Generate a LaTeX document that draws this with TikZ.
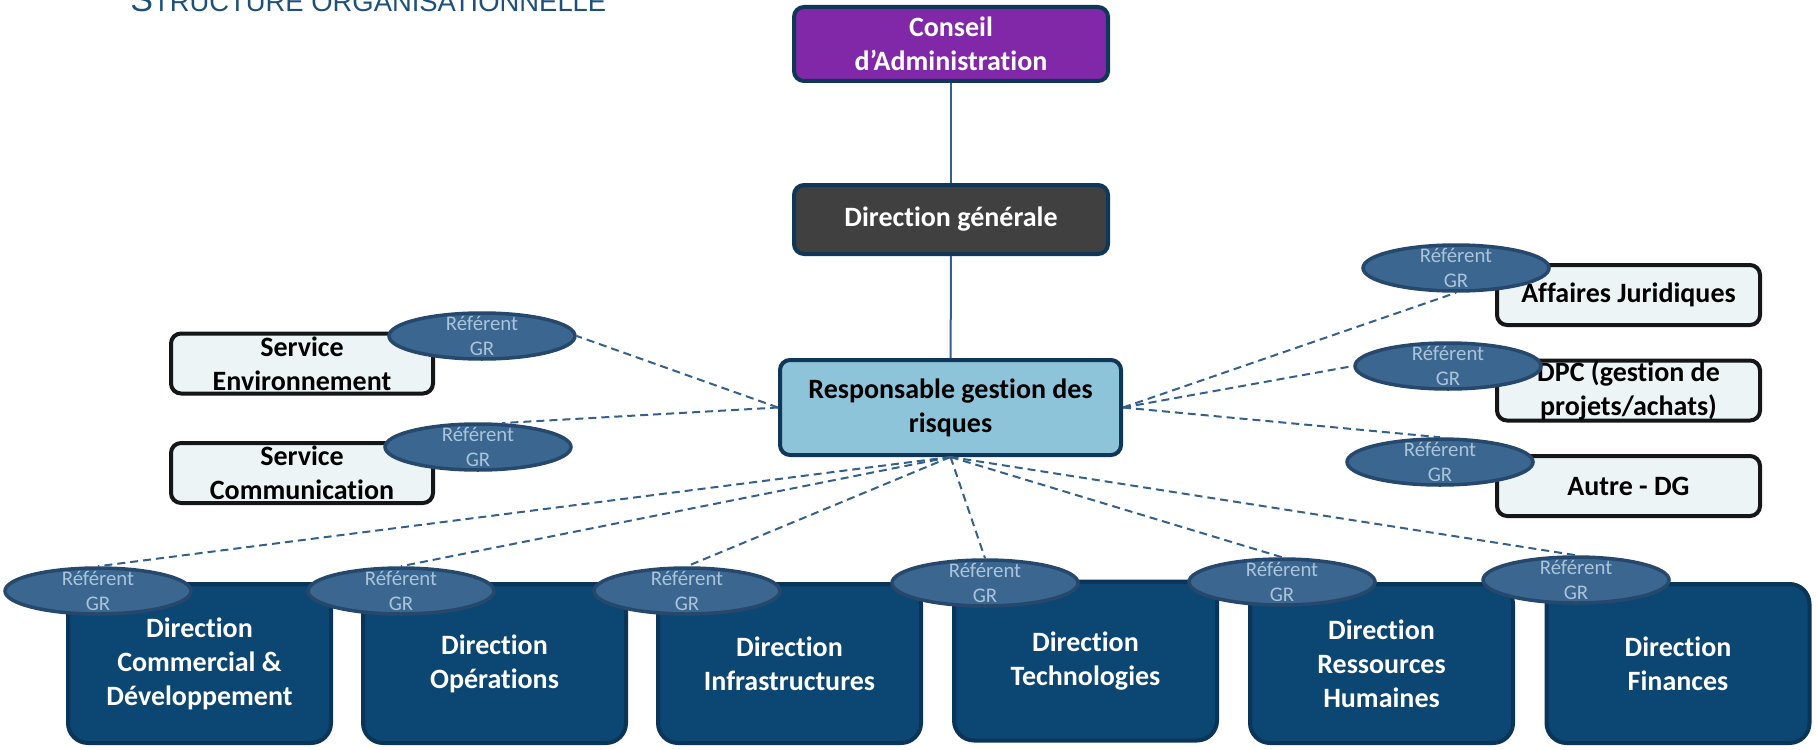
\documentclass[tikz,border=0pt]{standalone}
\usepackage{fontspec}
\setmainfont{Carlito}[Ligatures=NoCommon]
\newfontfamily\titlefont{Liberation Sans}
\usetikzlibrary{shapes.geometric}

\definecolor{titleblue}{RGB}{30,80,124}
\definecolor{cafill}{RGB}{128,40,168}
\definecolor{dgfill}{RGB}{64,64,64}
\definecolor{navyline}{RGB}{16,54,88}
\definecolor{rgrfill}{RGB}{142,196,217}
\definecolor{servfill}{RGB}{237,244,246}
\definecolor{servline}{RGB}{20,22,24}
\definecolor{dirfill}{RGB}{12,70,114}
\definecolor{dirline}{RGB}{10,52,88}
\definecolor{grfill}{RGB}{58,102,144}
\definecolor{grline}{RGB}{38,72,108}
\definecolor{grtext}{RGB}{170,196,218}
\definecolor{linkblue}{RGB}{52,96,140}

\tikzset{
  box/.style={draw=navyline, line width=2pt, rounded corners=5pt, inner sep=0pt,
    align=center, font=\bfseries\fontsize{14}{17}\selectfont},
  topbox/.style={box, minimum width=157pt, text=white},
  servbox/.style={box, draw=servline, fill=servfill, minimum width=131pt, minimum height=30pt},
  dirbox/.style={box, draw=dirline, fill=dirfill, text=white, rounded corners=10pt,
    minimum width=131.5pt, minimum height=79.5pt},
  grlabel/.style={align=center, text=grtext, inner sep=0pt, font=\fontsize{10.4}{12.5}\selectfont},
  refgr/.style={ellipse, draw=grline, line width=1.75pt, fill=grfill, minimum width=93pt,
    minimum height=23pt, inner sep=0pt, label={[grlabel]center:Référent\\GR}},
  solidlink/.style={draw=linkblue, line width=1pt},
  grlink/.style={draw=linkblue, line width=1pt, dash pattern=on 4pt off 2.5pt},
}

\begin{document}
\begin{tikzpicture}[x=0.5pt,y=-0.5pt]
\useasboundingbox (0,0) rectangle (1818,749);

% title
\node[anchor=base west, inner sep=0pt, text=titleblue, font=\titlefont] (title) at (130,12)
  {{\fontsize{17}{20}\selectfont S}{\fontsize{13.7}{16}\selectfont TRUCTURE ORGANISATIONNELLE}};

% main column
\node[topbox, fill=cafill, minimum height=37pt] (ca) at (951,44) {Conseil\\d’Administration};
\node[topbox, fill=dgfill, minimum height=34.5pt] (dg) at (951,219.5) {Direction générale};
\node[box, fill=rgrfill, minimum width=170.5pt, minimum height=47.5pt] (rgr) at (950.5,407.5)
  {Responsable gestion des\\risques};

% services
\node[servbox] (env) at (302,363.5) {Service\\Environnement};
\node[servbox] (comm) at (302,473) {Service\\Communication};
\node[servbox, minimum width=131.5pt] (aj) at (1628.5,295) {Affaires Juridiques};
\node[servbox, minimum width=131.5pt] (dpc) at (1628.5,390.5) {DPC (gestion de\\projets/achats)};
\node[servbox, minimum width=131.5pt] (autre) at (1628.5,486) {Autre - DG};

% directions
\node[dirbox] (dcom) at (199.5,663.5) {Direction\\Commercial \&\\Développement};
\node[dirbox] (dop) at (494.5,663.5) {Direction\\Opérations};
\node[dirbox] (dinf) at (789.5,663.5) {Direction\\Infrastructures};
\node[dirbox] (dtec) at (1085.5,661) {Direction\\Technologies};
\node[dirbox] (drh) at (1381.5,663.5) {Direction\\Ressources\\Humaines};
\node[dirbox] (dfin) at (1678,663.5) {Direction\\Finances};

% referents
\node[refgr] (grenv) at (482,336) {};
\node[refgr] (grcomm) at (478,447) {};
\node[refgr] (graj) at (1456,268) {};
\node[refgr] (grdpc) at (1448,366) {};
\node[refgr] (grautre) at (1440,462) {};
\node[refgr] (grcom) at (98,591) {};
\node[refgr] (grop) at (401,591) {};
\node[refgr] (grinf) at (687,591) {};
\node[refgr] (grtec) at (985,583) {};
\node[refgr] (grrh) at (1282,582) {};
\node[refgr] (grfin) at (1576,580) {};

% links
\draw[solidlink] (ca) -- (dg);
\draw[solidlink] (dg) -- (rgr);
\draw[grlink] (rgr.west) -- (grenv.east);
\draw[grlink] (rgr.west) -- (grcomm.45);
\draw[grlink] (rgr.east) -- (graj.south);
\draw[grlink] (rgr.east) -- (grdpc.west);
\draw[grlink] (rgr.east) -- (grautre.north);
\foreach \g in {grcom,grop,grinf,grtec,grrh,grfin}
  \draw[grlink] (rgr.south) -- (\g.north);
\end{tikzpicture}
\end{document}
